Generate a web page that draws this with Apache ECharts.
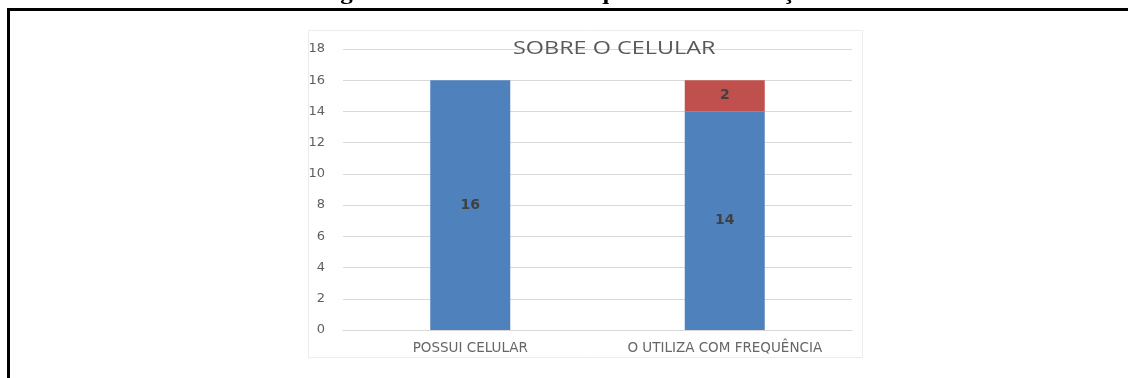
<!DOCTYPE html>
<html>
<head>
<meta charset="utf-8">
<style>
  html, body { margin: 0; padding: 0; background: #fff; }
  #chart { width: 1128px; height: 378px; }
</style>
<script src="https://cdn.jsdelivr.net/npm/echarts@6/dist/echarts.min.js"></script>
</head>
<body>
<div id="chart"></div>
<script>
// Categories and stacked counts
const categories = ['POSSUI CELULAR', 'O UTILIZA COM FREQUÊNCIA'];
const simValues = [16, 14];
const naoValues = [null, 2];
const yTicks = [0, 2, 4, 6, 8, 10, 12, 14, 16, 18];

const chart = echarts.init(document.getElementById('chart'), null, { renderer: 'canvas' });

const dataLabel = {
  show: true,
  position: 'inside',
  fontFamily: 'DejaVu Sans',
  fontWeight: 'bold',
  fontSize: 14,
  color: '#404040'
};

chart.setOption({
  animation: false,
  backgroundColor: '#ffffff',
  grid: { left: 343, right: 276, top: 49, bottom: 48 },
  xAxis: {
    type: 'category',
    data: categories,
    axisLine: { show: true, lineStyle: { color: '#d9d9d9', width: 1 } },
    axisTick: { show: false },
    axisLabel: {
      margin: 11,
      fontFamily: 'DejaVu Sans',
      fontSize: 13.5,
      color: '#666666'
    }
  },
  yAxis: {
    type: 'value',
    min: yTicks[0],
    max: yTicks[yTicks.length - 1],
    interval: yTicks[1] - yTicks[0],
    axisLine: { show: false },
    axisTick: { show: false },
    splitLine: { lineStyle: { color: '#d9d9d9', width: 1 } },
    axisLabel: {
      margin: 18,
      fontFamily: 'DejaVu Sans',
      fontSize: 13,
      color: '#606060'
    }
  },
  series: [
    {
      name: 'Sim',
      type: 'bar',
      stack: 'celular',
      barWidth: 80,
      data: simValues,
      itemStyle: { color: '#4f81bd' },
      label: dataLabel
    },
    {
      name: 'Não',
      type: 'bar',
      stack: 'celular',
      barWidth: 80,
      data: naoValues,
      itemStyle: { color: '#c0504d' },
      label: dataLabel
    }
  ],
  graphic: [
    // chart title, drawn over the top gridline
    {
      type: 'text',
      x: 513,
      y: 40,
      scaleX: 1.3,
      style: {
        text: 'SOBRE O CELULAR',
        font: '18px "Open Sans"',
        fill: '#595959',
        verticalAlign: 'top'
      },
      z: 10
    },
    // figure caption, partly above the page edge
    {
      type: 'text',
      x: 318,
      y: -16,
      scaleX: 1.25,
      style: {
        text: 'Figura 2: O celular e a frequência de utilização',
        font: 'bold 20px "Liberation Serif"',
        fill: '#000',
        verticalAlign: 'top'
      },
      z: 10
    },
    // frame around the figure
    { type: 'rect', shape: { x: 7, y: 8, width: 1121, height: 3 }, style: { fill: '#000' }, z: 10 },
    { type: 'rect', shape: { x: 7, y: 8, width: 3, height: 370 }, style: { fill: '#000' }, z: 10 },
    // chart area outline
    {
      type: 'rect',
      shape: { x: 308.5, y: 30.5, width: 554, height: 327 },
      style: { fill: 'none', stroke: '#ececec', lineWidth: 1 },
      z: -1
    }
  ]
});
</script>
</body>
</html>
